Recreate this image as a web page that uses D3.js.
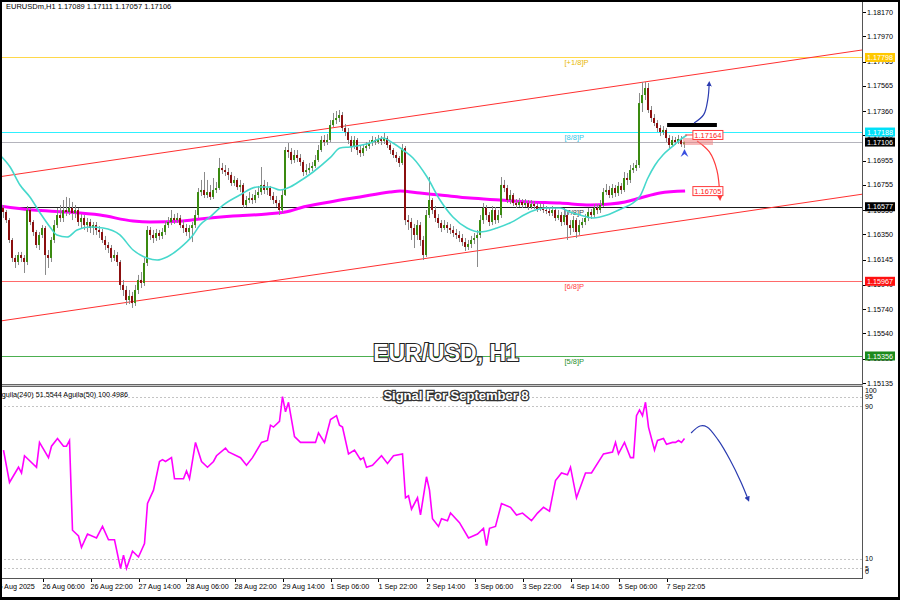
<!DOCTYPE html>
<html><head><meta charset="utf-8">
<script src="https://cdn.jsdelivr.net/npm/d3@7"></script>
<style>body{margin:0;background:#fff}svg{display:block}text{font-family:"Liberation Sans",Arial,sans-serif}</style>
</head><body>
<svg id="c" width="900" height="600"></svg>
<script>
// ---------------- DATA ----------------
const symbolTitle = "EURUSDm,H1  1.17089 1.17111 1.17057 1.17106";
const indicatorTitle = "Aguila(240) 51.5544  Aguila(50) 100.4986";
const chartTitle = "EUR/USD, H1";
const signalTitle = "Signal For September 8";
const firstOpen = 1.16567;
const closes = [
1.16534,1.16468,1.16305,1.16158,1.16125,1.16182,1.16158,1.16125,1.16550,1.16452,
1.16370,1.16264,1.16346,1.16403,1.16182,1.16158,1.16305,1.16427,1.16509,1.16485,
1.16550,1.16534,1.16567,1.16526,1.16550,1.16452,1.16485,1.16427,1.16452,1.16403,
1.16427,1.16387,1.16370,1.16305,1.16264,1.16239,1.16158,1.16182,1.16125,1.15937,
1.15896,1.15814,1.15847,1.15789,1.15896,1.15978,1.15953,1.16117,1.16387,1.16346,
1.16321,1.16362,1.16338,1.16370,1.16427,1.16452,1.16485,1.16468,1.16485,1.16427,
1.16403,1.16370,1.16403,1.16427,1.16509,1.16697,1.16714,1.16673,1.16697,1.16657,
1.16714,1.16730,1.16894,1.16877,1.16861,1.16837,1.16771,1.16796,1.16738,1.16755,
1.16591,1.16632,1.16648,1.16632,1.16673,1.16697,1.16755,1.16714,1.16730,1.16665,
1.16632,1.16607,1.16550,1.16673,1.17041,1.17025,1.16959,1.17000,1.16976,1.16943,
1.16861,1.16877,1.16894,1.16910,1.16959,1.17041,1.17123,1.17106,1.17123,1.17245,
1.17286,1.17303,1.17327,1.17221,1.17188,1.17123,1.17066,1.17123,1.17041,1.17016,
1.17057,1.17074,1.17098,1.17123,1.17106,1.17131,1.17115,1.17139,1.17082,1.17041,
1.17000,1.16976,1.16935,1.17057,1.16468,1.16452,1.16403,1.16346,1.16427,1.16305,
1.16182,1.16509,1.16632,1.16550,1.16485,1.16444,1.16403,1.16427,1.16403,1.16387,
1.16362,1.16346,1.16321,1.16288,1.16248,1.16272,1.16305,1.16321,1.16346,1.16468,
1.16567,1.16509,1.16452,1.16550,1.16468,1.16509,1.16755,1.16730,1.16632,1.16673,
1.16607,1.16591,1.16616,1.16591,1.16607,1.16575,1.16599,1.16583,1.16558,1.16575,
1.16550,1.16542,1.16526,1.16550,1.16485,1.16509,1.16452,1.16509,1.16427,1.16403,
1.16468,1.16370,1.16427,1.16452,1.16485,1.16534,1.16509,1.16567,1.16550,1.16591,
1.16697,1.16714,1.16673,1.16730,1.16689,1.16747,1.16714,1.16812,1.16796,1.16877,
1.16894,1.16918,1.17425,1.17491,1.17548,1.17368,1.17303,1.17262,1.17221,1.17188,
1.17205,1.17139,1.17082,1.17123,1.17106,1.17131,1.17089,1.17106];
const highs = [
1.16591,1.16550,1.16485,1.16321,1.16182,1.16207,1.16207,1.16182,1.16583,1.16567,
1.16468,1.16387,1.16370,1.16427,1.16419,1.16223,1.16329,1.16468,1.16567,1.16591,
1.16632,1.16657,1.16648,1.16616,1.16591,1.16567,1.16517,1.16509,1.16485,1.16477,
1.16452,1.16452,1.16419,1.16395,1.16338,1.16288,1.16264,1.16223,1.16207,1.16141,
1.15978,1.15929,1.15896,1.15880,1.15937,1.16019,1.16043,1.16158,1.16419,1.16411,
1.16387,1.16395,1.16387,1.16403,1.16460,1.16493,1.16550,1.16517,1.16526,1.16509,
1.16468,1.16436,1.16427,1.16452,1.16550,1.16730,1.16796,1.16861,1.16796,1.16755,
1.16812,1.16779,1.16976,1.16935,1.16918,1.16894,1.16861,1.16828,1.16812,1.16796,
1.16771,1.16665,1.16697,1.16681,1.16714,1.16747,1.16902,1.16796,1.16779,1.16747,
1.16697,1.16665,1.16632,1.16714,1.17066,1.17098,1.17057,1.17041,1.17041,1.17008,
1.16959,1.16926,1.16935,1.16943,1.17000,1.17082,1.17155,1.17164,1.17172,1.17286,
1.17344,1.17360,1.17368,1.17352,1.17254,1.17221,1.17155,1.17155,1.17139,1.17074,
1.17090,1.17106,1.17123,1.17155,1.17147,1.17164,1.17155,1.17180,1.17155,1.17098,
1.17057,1.17025,1.16992,1.17090,1.17074,1.16509,1.16485,1.16436,1.16468,1.16452,
1.16338,1.16550,1.16820,1.16648,1.16583,1.16517,1.16468,1.16468,1.16452,1.16436,
1.16419,1.16395,1.16378,1.16354,1.16321,1.16305,1.16338,1.16362,1.16387,1.16509,
1.16607,1.16591,1.16534,1.16583,1.16575,1.16550,1.16820,1.16796,1.16755,1.16714,
1.16689,1.16640,1.16648,1.16640,1.16640,1.16632,1.16632,1.16624,1.16607,1.16607,
1.16599,1.16583,1.16575,1.16583,1.16567,1.16550,1.16534,1.16567,1.16534,1.16468,
1.16501,1.16485,1.16468,1.16485,1.16517,1.16567,1.16558,1.16599,1.16599,1.16632,
1.16730,1.16763,1.16747,1.16763,1.16755,1.16779,1.16771,1.16861,1.16853,1.16918,
1.16935,1.16959,1.17507,1.17597,1.17597,1.17589,1.17401,1.17335,1.17286,1.17245,
1.17237,1.17221,1.17164,1.17155,1.17147,1.17164,1.17155,1.17111];
const lows = [
1.16485,1.16444,1.16280,1.16125,1.16076,1.16100,1.16125,1.16035,1.16100,1.16427,
1.16338,1.16239,1.16223,1.16321,1.16019,1.16076,1.16125,1.16280,1.16403,1.16452,
1.16452,1.16501,1.16509,1.16468,1.16485,1.16419,1.16403,1.16387,1.16370,1.16362,
1.16346,1.16346,1.16321,1.16280,1.16223,1.16198,1.16125,1.16133,1.16092,1.15896,
1.15847,1.15773,1.15781,1.15749,1.15765,1.15863,1.15912,1.15929,1.16092,1.16305,
1.16280,1.16297,1.16305,1.16313,1.16346,1.16403,1.16427,1.16436,1.16444,1.16403,
1.16362,1.16338,1.16321,1.16288,1.16403,1.16485,1.16665,1.16648,1.16648,1.16632,
1.16640,1.16689,1.16714,1.16845,1.16828,1.16796,1.16747,1.16747,1.16714,1.16697,
1.16567,1.16575,1.16607,1.16599,1.16607,1.16648,1.16673,1.16681,1.16673,1.16632,
1.16599,1.16575,1.16509,1.16526,1.16665,1.16976,1.16926,1.16935,1.16943,1.16910,
1.16828,1.16837,1.16853,1.16869,1.16894,1.16943,1.17025,1.17074,1.17082,1.17106,
1.17229,1.17254,1.17270,1.17196,1.17155,1.17090,1.17025,1.17049,1.17000,1.16984,
1.16992,1.17033,1.17049,1.17074,1.17082,1.17090,1.17082,1.17090,1.17057,1.17008,
1.16976,1.16943,1.16902,1.16918,1.16427,1.16387,1.16305,1.16239,1.16305,1.16256,
1.16141,1.16166,1.16485,1.16517,1.16452,1.16403,1.16370,1.16387,1.16362,1.16354,
1.16329,1.16313,1.16288,1.16256,1.16215,1.16223,1.16239,1.16272,1.16084,1.16321,
1.16436,1.16468,1.16419,1.16427,1.16436,1.16444,1.16485,1.16697,1.16607,1.16599,
1.16583,1.16567,1.16575,1.16567,1.16575,1.16550,1.16558,1.16558,1.16534,1.16542,
1.16526,1.16517,1.16501,1.16501,1.16460,1.16468,1.16419,1.16427,1.16305,1.16346,
1.16370,1.16321,1.16346,1.16403,1.16427,1.16460,1.16477,1.16485,1.16517,1.16526,
1.16575,1.16673,1.16648,1.16648,1.16657,1.16665,1.16681,1.16697,1.16755,1.16771,
1.16853,1.16869,1.16894,1.17352,1.17450,1.17344,1.17270,1.17237,1.17188,1.17155,
1.17164,1.17106,1.17057,1.17066,1.17082,1.17090,1.17066,1.17057];

// fast MA (cyan) read at [bar, price]
const fastMA = [[-1.2,1.17000],[2.2,1.16902],[5.5,1.16755],[8.8,1.16657],[12.2,1.16526],[15.5,1.16411],[17.8,1.16346],[21.2,1.16329],[24.5,1.16387],[28.8,1.16411],[33.2,1.16403],[38.8,1.16346],[43.2,1.16223],[47.8,1.16158],[51.2,1.16141],[54.5,1.16166],[58.8,1.16239],[63.2,1.16346],[65.5,1.16427],[68.8,1.16493],[73.2,1.16591],[78.8,1.16673],[84.5,1.16738],[88.8,1.16738],[92.2,1.16714],[95.5,1.16738],[97.8,1.16771],[103.2,1.16861],[108.8,1.16976],[112.2,1.17057],[115.5,1.17066],[122.2,1.17098],[126.5,1.17139],[129.8,1.17098],[133.2,1.17041],[136.5,1.16976],[141.2,1.16820],[145.5,1.16632],[149.8,1.16493],[154.5,1.16403],[158.8,1.16370],[164.5,1.16403],[168.8,1.16444],[175.5,1.16534],[180.5,1.16567],[185.5,1.16567],[188.8,1.16534],[192.2,1.16509],[196.5,1.16485],[201.2,1.16509],[206.5,1.16567],[209.8,1.16607],[212.2,1.16665],[214.8,1.16812],[217.2,1.16918],[219.8,1.17000],[222.8,1.17066],[225.5,1.17123],[227.8,1.17164]];
// slow MA (magenta) read at [bar, price]
const slowMA = [[-1.2,1.16583],[9.8,1.16550],[21.2,1.16534],[32.2,1.16509],[43.2,1.16460],[48.8,1.16452],[59.8,1.16460],[65.5,1.16477],[76.5,1.16501],[87.8,1.16517],[95.5,1.16542],[98.8,1.16567],[108.8,1.16616],[118.8,1.16657],[128.8,1.16697],[132.2,1.16706],[138.8,1.16689],[145.5,1.16673],[155.5,1.16648],[165.5,1.16632],[175.5,1.16616],[185.5,1.16607],[195.5,1.16591],[202.2,1.16599],[207.2,1.16616],[212.2,1.16648],[218.8,1.16689],[227.2,1.16705]];

const indBars = [0,2,5,6,7,11,12,15,16,18,20,21,22,23,25,26,28,31,33,35,37,39,40,41,43,45,47,48,50,52,53,54,56,57,60,61,62,64,66,68,70,71,74,75,79,81,83,86,88,89,90,92,93,94,95,97,99,104,105,107,109,111,112,113,115,117,119,120,121,123,126,128,130,133,134,135,136,138,139,141,142,143,145,146,148,149,152,155,158,160,161,162,164,166,169,171,173,176,178,180,182,184,186,188,189,191,194,196,200,203,204,205,207,209,210,211,212,213,214,215,217,218,220,221,223,224,225,226,227];
const indValues = [67,50,58,55,64,58,71,63,69,73,69,69,72,25,22,16,23,21,27,20,20,5,12,5,14,11,18,39,46,61,62,61,63,52,52,56,52,71,61,58,61,64,68,66,63,59,63,71,72,80,79,82,95,87,92,74,71,71,76,71,83,85,80,79,65,67,62,63,58,59,64,60,64,65,42,43,36,42,33,53,46,31,27,31,30,34,29,21,23,26,17,26,27,39,37,33,34,30,34,37,35,51,55,54,58,42,55,55,65,66,71,65,71,63,63,85,88,85,92,79,67,72,73,70,71,71,72,71,73];

const priceTicks = [1.18170,1.17970,1.17765,1.17565,1.17360,1.17160,1.16955,1.16755,1.16550,1.16350,1.16145,1.15940,1.15740,1.15540,1.15335,1.15135];
const indTicks = [100,95,90,10,5,0];
const indDashed = [95,90,10,5];
const timeBars = [-3,13,29,45,61,77,93,109,125,141,157,173,189,205,221];
const timeLabels = ["25 Aug 2025","26 Aug 06:00","26 Aug 22:00","27 Aug 14:00","28 Aug 06:00","28 Aug 22:00","29 Aug 14:00","1 Sep 06:00","1 Sep 22:00","2 Sep 14:00","3 Sep 06:00","3 Sep 22:00","4 Sep 14:00","5 Sep 06:00","7 Sep 22:05"];

const levelPrices = [1.17798,1.17188,1.16577,1.15967,1.15356];
const levelNames = ["[+1/8]P","[8/8]P","[7/8]P","[6/8]P","[5/8]P"];
const lastPrice = 1.17106;
const upperChannel = [[0,1.16827],[280,1.17837]];
const lowerChannel = [[0,1.15646],[280,1.16657]];
const fastLast = 1.17164, slowLast = 1.16705;
const resistanceBar = [[221.2,237.8],1.17245];

// ---------------- DRAWING ----------------
const svg = d3.select("#c");
const PR = 862, MB = 384, IT = 387, IB = 578;
const x = d3.scaleLinear().domain([0,227]).range([3.5,684.5]);
const y = d3.scaleLinear().domain([1.15135,1.18170]).range([383,12]);
const yi = d3.scaleLinear().domain([0,100]).range([IB,IT]);

svg.append("rect").attr("width",900).attr("height",600).attr("fill","#fff");
const defs = svg.append("defs");
defs.append("clipPath").attr("id","mainclip").append("rect").attr("x",0).attr("y",0).attr("width",PR).attr("height",MB);
defs.append("clipPath").attr("id","indclip").append("rect").attr("x",0).attr("y",IT).attr("width",PR).attr("height",IB-IT);
function marker(id,color){
  defs.append("marker").attr("id",id).attr("viewBox","0 0 10 10").attr("refX",2).attr("refY",5)
   .attr("markerWidth",4.5).attr("markerHeight",4.5).attr("orient","auto")
   .append("path").attr("d","M0,0 L10,5 L0,10 Z").attr("fill",color);
}
marker("arBlue","#2a3bb0"); marker("arRed","#ff3b3b"); marker("arBlue2","#2a3bb0");

const main = svg.append("g").attr("clip-path","url(#mainclip)");

// levels
const levelLine = ["#ffd84a","#2ef0ff","#1a1a1a","#ff6a6a","#4caf50"];
const levelText = ["#e8b800","#39c6e6","#444","#ff4040","#2a8f2a"];
levelPrices.forEach((p,k)=>{
  main.append("line").attr("x1",0).attr("x2",PR).attr("y1",Math.round(y(p))+0.5).attr("y2",Math.round(y(p))+0.5)
    .attr("stroke",levelLine[k]).attr("stroke-width",1);
  main.append("text").attr("x",x(187)).attr("y",y(p)+8).attr("font-size",7.5).attr("fill",levelText[k]).text(levelNames[k]);
});
main.append("line").attr("x1",0).attr("x2",PR).attr("y1",Math.round(y(lastPrice))+0.5).attr("y2",Math.round(y(lastPrice))+0.5)
  .attr("stroke","#b4b4bc").attr("stroke-width",1);

// channels
function chan(a){
  const s=(a[1][1]-a[0][1])/(a[1][0]-a[0][0]);
  const i0=x.invert(0), i1=x.invert(PR);
  return [[i0,a[0][1]+s*(i0-a[0][0])],[i1,a[0][1]+s*(i1-a[0][0])]];
}
[upperChannel,lowerChannel].forEach(c=>{
  const e=chan(c);
  main.append("line").attr("x1",x(e[0][0])).attr("y1",y(e[0][1])).attr("x2",x(e[1][0])).attr("y2",y(e[1][1]))
   .attr("stroke","#ff3030").attr("stroke-width",1);
});

// slow MA
const lineGen = d3.line().x(d=>x(d[0])).y(d=>y(d[1])).curve(d3.curveMonotoneX);
main.append("path").attr("d",lineGen(slowMA)).attr("fill","none").attr("stroke","#ff00ff").attr("stroke-width",3);

// candles
const bars = closes.map((c,i)=>({i,o:i?closes[i-1]:firstOpen,h:highs[i],l:lows[i],c}));
const cg = main.append("g");
cg.selectAll("line.w").data(bars).enter().append("line")
 .attr("x1",d=>x(d.i)).attr("x2",d=>x(d.i))
 .attr("y1",d=>y(Math.max(d.h,d.o,d.c))).attr("y2",d=>y(Math.min(d.l,d.o,d.c)))
 .attr("stroke","#8a8a8a").attr("stroke-width",1);
cg.selectAll("rect").data(bars).enter().append("rect")
 .attr("x",d=>x(d.i)-1.5).attr("width",2)
 .attr("y",d=>y(Math.max(d.o,d.c)))
 .attr("height",d=>Math.max(1,y(Math.min(d.o,d.c))-y(Math.max(d.o,d.c))))
 .attr("fill",d=>d.c>=d.o?"#3a8a10":"#8b0f0f");

// fast MA
main.append("path").attr("d",lineGen(fastMA)).attr("fill","none").attr("stroke","#46d8cc").attr("stroke-width",1.6);

// annotations
main.append("line").attr("x1",x(resistanceBar[0][0])).attr("x2",x(resistanceBar[0][1]))
 .attr("y1",y(resistanceBar[1])).attr("y2",y(resistanceBar[1])).attr("stroke","#000").attr("stroke-width",4);
const curve = d3.line().x(d=>x(d[0])).y(d=>y(d[1])).curve(d3.curveCatmullRom);
main.append("path").attr("d",curve([[230.2,1.17262],[233.4,1.17330],[234.8,1.17460],[235.2,1.17570]]))
 .attr("fill","none").attr("stroke","#2a3bb0").attr("stroke-width",1.2).attr("marker-end","url(#arBlue)");
main.append("path").attr("d",curve([[231.2,1.17115],[235.3,1.17025],[237.8,1.16877],[238.8,1.16660]]))
 .attr("fill","none").attr("stroke","#ff3b3b").attr("stroke-width",1.2).attr("marker-end","url(#arRed)");
// pink zone
main.append("rect").attr("x",x(226.5)).attr("width",x(236.5)-x(226.5)).attr("y",y(1.17139)).attr("height",y(1.17082)-y(1.17139))
 .attr("fill","#f08080").attr("opacity",0.55);
main.append("line").attr("x1",x(227.2)).attr("y1",y(fastLast)).attr("x2",x(229.8)).attr("y2",y(fastLast)+0)
 .attr("stroke","#ff3b3b").attr("stroke-width",1);
[fastLast,slowLast].forEach(v=>{
  const bx=x(229.8), by=y(v);
  main.append("rect").attr("x",bx).attr("y",by-4.5).attr("width",30).attr("height",9).attr("fill","#fff").attr("stroke","#ff3b3b").attr("stroke-width",1);
  main.append("text").attr("x",bx+15).attr("y",by+0.5).attr("dy","0.33em").attr("text-anchor","middle").attr("font-size",7.5).attr("fill","#ff2020").text(v.toFixed(5));
});
// small blue arrow below last bar
const ch=[[227,1.17049],[225.7,1.16984],[227,1.17008],[228.3,1.16984]];
main.append("path").attr("d","M"+ch.map(d=>x(d[0])+","+y(d[1])).join("L")+"Z").attr("fill","#3a4fe0");

// big titles
main.append("text").attr("x",446).attr("y",361).attr("text-anchor","middle").attr("font-size",23).attr("font-weight","bold")
 .attr("fill","#fff").attr("stroke","#222").attr("stroke-width",2.2).attr("paint-order","stroke").attr("font-family","'DejaVu Sans',sans-serif").text(chartTitle);

// header
svg.append("text").attr("x",6).attr("y",9).attr("font-size",7.5).attr("fill","#000").text(symbolTitle);

// right axis
const ax = svg.append("g");
priceTicks.forEach(v=>{
  ax.append("line").attr("x1",PR).attr("x2",PR+4).attr("y1",Math.round(y(v))+0.5).attr("y2",Math.round(y(v))+0.5).attr("stroke","#000");
  ax.append("text").attr("x",PR+5).attr("y",y(v)).attr("dy","0.35em").attr("font-size",7.2).attr("fill","#000").text(v.toFixed(5));
});
const boxFill = ["#ffc800","#00e0f8","#000","#ff1010","#1b8a1b"];
levelPrices.forEach((p,k)=>{
  ax.append("rect").attr("x",PR+3).attr("y",y(p)-4.5).attr("width",30).attr("height",9).attr("fill",boxFill[k]);
  ax.append("text").attr("x",PR+5).attr("y",y(p)).attr("dy","0.35em").attr("font-size",7.2).attr("fill","#fff").text(p.toFixed(5));
});
ax.append("rect").attr("x",PR+3).attr("y",y(lastPrice)-4.5).attr("width",30).attr("height",9).attr("fill","#000");
ax.append("text").attr("x",PR+5).attr("y",y(lastPrice)).attr("dy","0.35em").attr("font-size",7.2).attr("fill","#fff").text(lastPrice.toFixed(5));

// indicator pane
const ind = svg.append("g").attr("clip-path","url(#indclip)");
indDashed.forEach(v=>{
  ind.append("line").attr("x1",0).attr("x2",PR).attr("y1",Math.round(yi(v))+0.5).attr("y2",Math.round(yi(v))+0.5)
   .attr("stroke","#c4c4c4").attr("stroke-dasharray","2,2");
});
const indLine = d3.line().x((d,k)=>x(indBars[k])).y(d=>yi(d));
ind.append("path").attr("d",indLine(indValues)).attr("fill","none").attr("stroke","#ff00ff").attr("stroke-width",1.6);
const icurve = d3.line().x(d=>x(d[0])).y(d=>yi(d[1])).curve(d3.curveCatmullRom);
ind.append("path").attr("d",icurve([[229.2,75.9],[232.2,79.6],[234.5,79.1],[238.2,72.3],[242.2,61.8],[245.8,50.3],[248.0,42.0]]))
 .attr("fill","none").attr("stroke","#2a3bb0").attr("stroke-width",1.2).attr("marker-end","url(#arBlue2)");
svg.append("text").attr("x",-3).attr("y",397).attr("font-size",7.2).attr("fill","#000").text(indicatorTitle);
svg.append("text").attr("x",456).attr("y",400).attr("text-anchor","middle").attr("font-size",13).attr("font-weight","bold")
 .attr("fill","#fff").attr("stroke","#333").attr("stroke-width",2.6).attr("paint-order","stroke").attr("font-family","'DejaVu Sans',sans-serif").text(signalTitle);
indTicks.forEach(v=>{
  const yy=Math.min(Math.max(yi(v),391),572);
  svg.append("text").attr("x",PR+3).attr("y",yy).attr("dy","0.35em").attr("font-size",7).attr("fill","#000").text(v);
});

// frames
svg.append("line").attr("x1",PR+0.5).attr("x2",PR+0.5).attr("y1",0).attr("y2",IB).attr("stroke","#555");
svg.append("line").attr("x1",0).attr("x2",PR+1).attr("y1",MB+0.5).attr("y2",MB+0.5).attr("stroke","#666");
svg.append("rect").attr("x",0).attr("y",MB+1).attr("width",PR+1).attr("height",2).attr("fill","#c8c8c8");
svg.append("line").attr("x1",0).attr("x2",PR+1).attr("y1",IT-0.5).attr("y2",IT-0.5).attr("stroke","#666");
svg.append("line").attr("x1",0).attr("x2",PR+1).attr("y1",IB+0.5).attr("y2",IB+0.5).attr("stroke","#555");

// time axis
timeBars.forEach((b,k)=>{
  const xx=Math.round(x(b))+0.5;
  svg.append("line").attr("x1",xx).attr("x2",xx).attr("y1",IB+1).attr("y2",IB+4).attr("stroke","#000");
  svg.append("text").attr("x",x(b)).attr("y",589).attr("font-size",7.2).attr("fill","#000").text(timeLabels[k]);
});

svg.append("rect").attr("x",1).attr("y",1).attr("width",898).attr("height",597).attr("fill","none").attr("stroke","#000").attr("stroke-width",2);
svg.append("line").attr("x1",0).attr("x2",900).attr("y1",598.5).attr("y2",598.5).attr("stroke","#000").attr("stroke-width",3);
</script>
</body></html>
